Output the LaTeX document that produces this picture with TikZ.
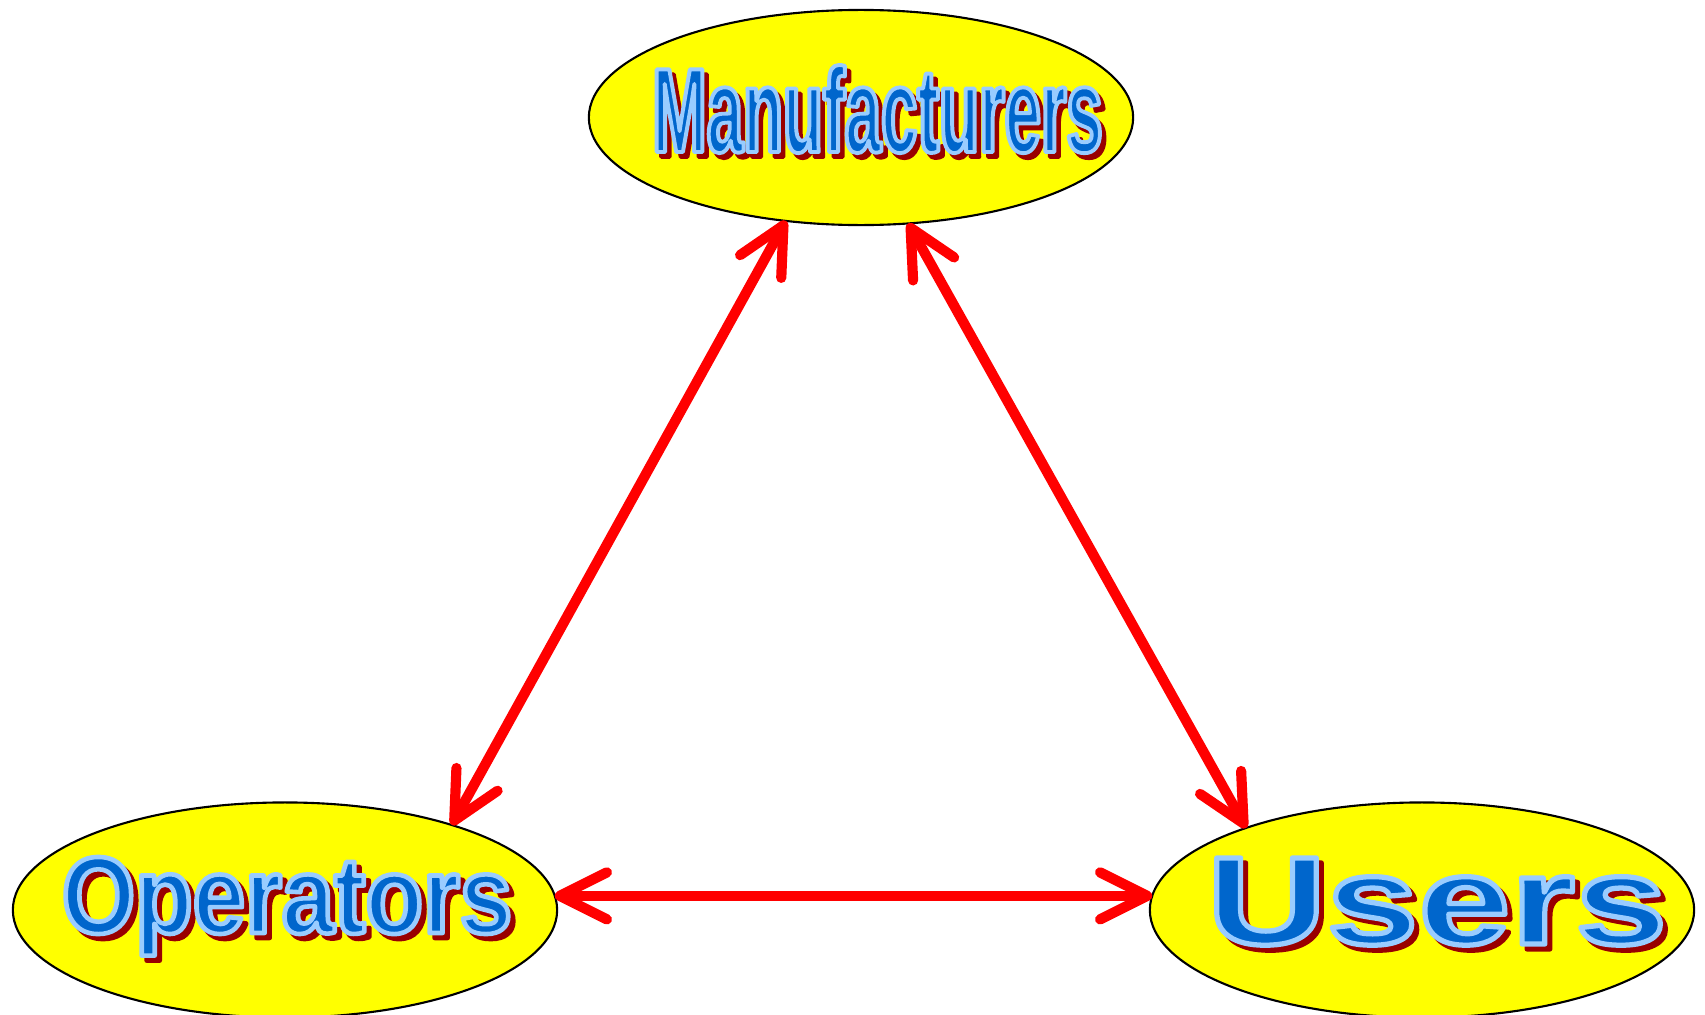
\documentclass[tikz,border=0pt]{standalone}
\usepackage{fontspec}
\usepackage{graphicx}
\usetikzlibrary{arrows.meta,shapes.geometric}
\newfontfamily\manfont{Liberation Sans}[FakeStretch=0.53]
\newfontfamily\opfont{Liberation Sans}[FakeStretch=0.84]
\newfontfamily\usfont{Liberation Sans}[FakeStretch=1.34]
\definecolor{txtblue}{HTML}{0066CC}
\definecolor{outblue}{HTML}{99CCFF}
\definecolor{shadred}{HTML}{990000}
\definecolor{bubyellow}{HTML}{FFFF00}
% #1 font, #2 width, #3 height, #4 stroke width, #5 stroke colour (r g b), #6 text
\newcommand\wordart[6]{\resizebox{#2}{#3}{#1\bfseries\special{pdf:literal direct 2 Tr #4 w 1 j 1 J #5 RG}#6\special{pdf:literal direct 0 Tr}}}
\tikzset{
  bub/.style={ellipse, draw=black, line width=0.6pt, fill=bubyellow,
    minimum width=5.44cm, minimum height=2.15cm, inner sep=0pt, outer sep=0pt},
  lbl/.style={inner sep=0pt, outer sep=0pt, anchor=base, text=txtblue},
  shd/.style={inner sep=0pt, outer sep=0pt, anchor=base, text=shadred},
  arr/.style={draw=red, line width=2.9pt, line cap=round,
    {Straight Barb[round,length=0.47cm,width=0.47cm]}-{Straight Barb[round,length=0.47cm,width=0.47cm]}}
}
\begin{document}
\begin{tikzpicture}[x=0.01cm,y=-0.01cm]
\useasboundingbox (0,0) rectangle (1705,1015);
\node[bub] (man) at (861,117.5) {};
\node[bub] (op) at (285,910) {};
\node[bub] (us) at (1422,910) {};
% shadows
\node[shd] (manshadow) at (882,157) {\wordart{\manfont}{4.5cm}{0.87cm}{0.32}{0.6 0 0}{Manufacturers}};
\node[shd] (opshadow) at (292,938) {\wordart{\opfont}{4.5cm}{0.76cm}{0.42}{0.6 0 0}{Operators}};
\node[shd] (usshadow) at (1442,949) {\wordart{\usfont}{4.6cm}{0.86cm}{0.42}{0.6 0 0}{Users}};
% labels
\node[lbl] (mantext) at (877.5,152) {\wordart{\manfont}{4.5cm}{0.87cm}{0.32}{0.6 0.8 1}{Manufacturers}};
\node[lbl] (optext) at (287,933) {\wordart{\opfont}{4.5cm}{0.76cm}{0.42}{0.6 0.8 1}{Operators}};
\node[lbl] (ustext) at (1437,944) {\wordart{\usfont}{4.6cm}{0.86cm}{0.42}{0.6 0.8 1}{Users}};
% connectors
\draw[arr] (man.234) -- (op.27);
\draw[arr] (man.294) -- (us.155);
\draw[arr] (op.3) -- (us.177);
\end{tikzpicture}
\end{document}
